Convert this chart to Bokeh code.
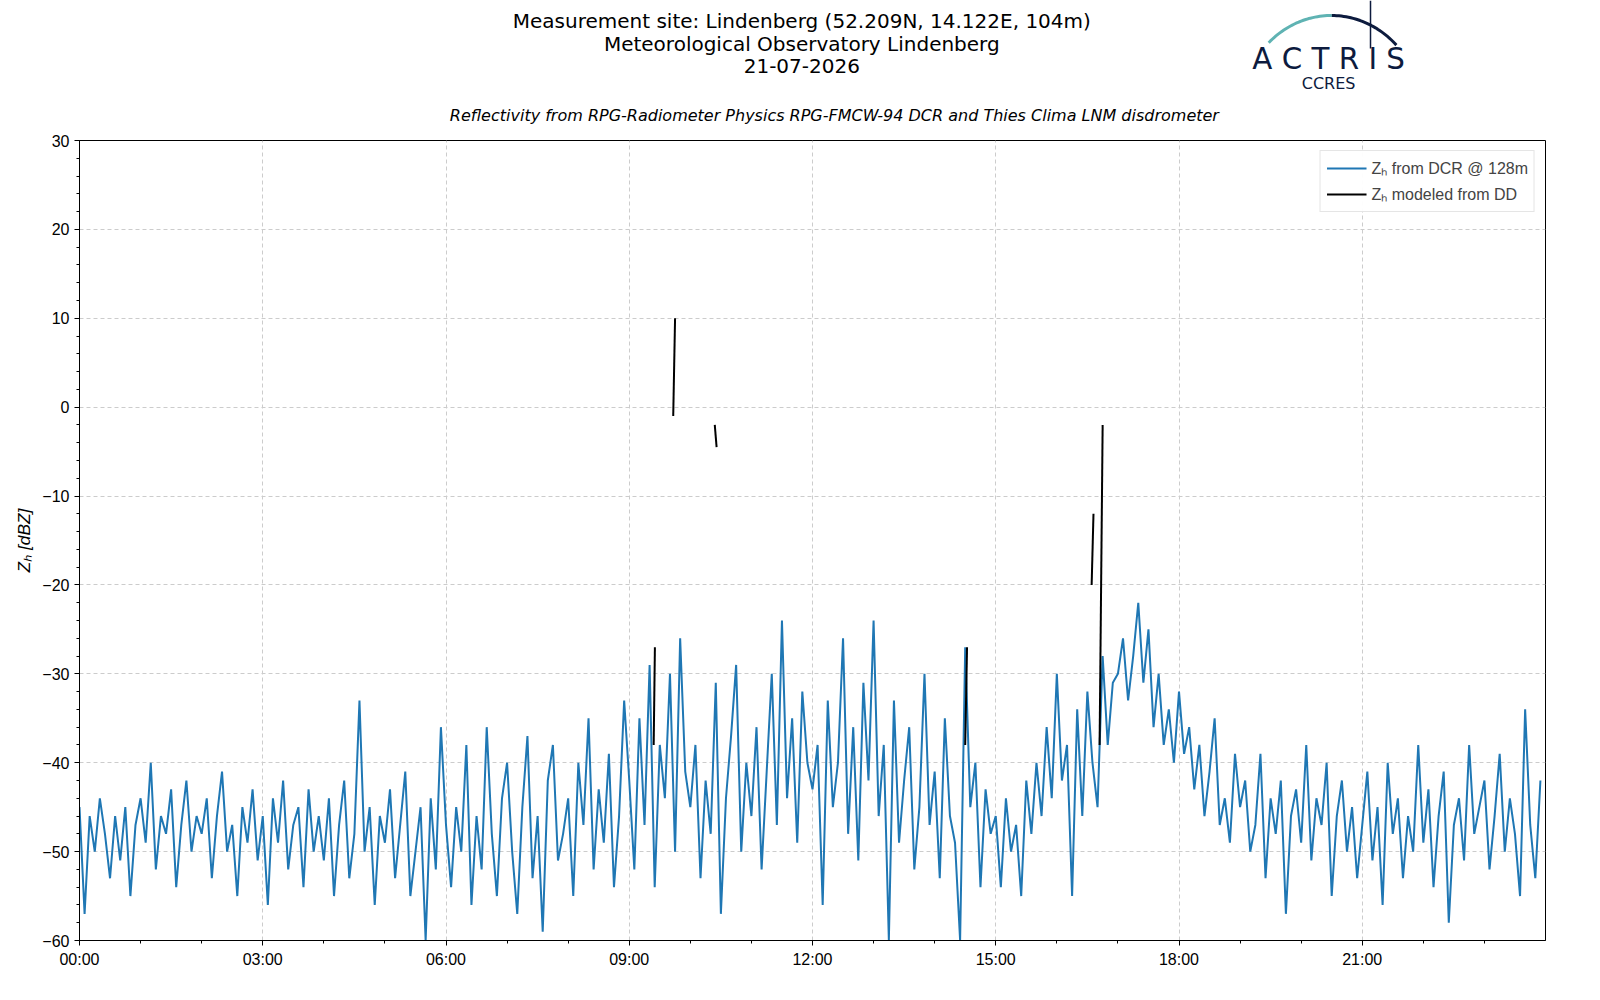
import numpy as np
from bokeh.plotting import figure
from bokeh.layouts import column
from bokeh.models import FixedTicker, Range1d, Legend, LegendItem
from bokeh.core.properties import value
from bokeh.embed import file_html
from bokeh.resources import INLINE

dcr_hourly = [
[-45,-57,-46,-50,-44,-48,-53,-46,-51,-45,-55,-47],
[-44,-49,-40,-52,-46,-48,-43,-54,-47,-42,-50,-46],
[-48,-44,-53,-46,-41,-50,-47,-55,-45,-49,-43,-51],
[-46,-56,-44,-49,-42,-52,-47,-45,-54,-43,-50,-46],
[-51,-44,-55,-47,-42,-53,-48,-33,-50,-45,-56,-46],
[-49,-43,-53,-47,-41,-55,-50,-45,-60,-44,-52,-36],
[-47,-54,-45,-50,-38,-56,-46,-52,-36,-48,-55,-44],
[-40,-50,-57,-45,-37,-53,-46,-59,-42,-38,-51,-48],
[-44,-55,-40,-47,-35,-52,-43,-49,-39,-54,-46,-33],
[-42,-52,-35,-47,-29,-54,-38,-44,-30,-50,-26,-41],
[-45,-38,-53,-42,-48,-31,-57,-44,-37,-29,-50,-40],
[-46,-36,-52,-41,-30,-47,-24,-44,-35,-49,-32,-40],
[-43,-38,-56,-33,-45,-40,-26,-48,-36,-51,-31,-42],
[-24,-46,-38,-60,-33,-49,-42,-36,-52,-45,-30,-47],
[-41,-53,-35,-46,-49,-60,-27,-45,-40,-54,-43,-48],
[-46,-54,-44,-50,-47,-55,-42,-48,-40,-46,-36,-44],
[-30,-42,-38,-55,-34,-46,-32,-40,-45,-28,-38,-31],
[-30,-26,-33,-28,-22,-31,-25,-36,-30,-38,-34,-40],
[-32,-39,-36,-43,-38,-46,-41,-35,-47,-44,-49,-39],
[-45,-42,-50,-47,-39,-53,-44,-48,-42,-57,-46,-43],
[-49,-38,-51,-44,-47,-40,-55,-46,-42,-50,-45,-53],
[-47,-41,-51,-45,-56,-40,-48,-44,-53,-46,-50,-38],
[-49,-43,-54,-46,-41,-58,-47,-44,-51,-38,-48,-45],
[-42,-52,-46,-39,-50,-44,-48,-55,-34,-47,-53,-42],
]
dcr_values = [v for h in dcr_hourly for v in h]
dcr_time = [i / 12 for i in range(len(dcr_values))]

dd_time = [[9.40, 9.42], [9.72, 9.75], [10.40, 10.43], [14.50, 14.53], [16.57, 16.60], [16.70, 16.75]]
dd_values = [[-38, -27], [-1, 10], [-2, -4.5], [-38, -27], [-20, -12], [-38, -2]]

tick_pos = [0, 3, 6, 9, 12, 15, 18, 21]
tick_lab = ["00:00", "03:00", "06:00", "09:00", "12:00", "15:00", "18:00", "21:00"]

W = 1575
h = figure(width=W, height=130, output_backend="svg", toolbar_location=None,
           x_range=Range1d(0, W), y_range=Range1d(130, 0), min_border=0)
h.axis.visible = False
h.grid.visible = False
h.outline_line_color = None
F = value("DejaVu Sans")
h.text(x=[776, 776, 776], y=[20, 43, 65],
       text=["Measurement site: Lindenberg (52.209N, 14.122E, 104m)",
             "Meteorological Observatory Lindenberg", "21-07-2026"],
       text_font=F, text_font_size="15pt", text_align="center", text_baseline="middle")
h.text(x=[811], y=[115], text=["Reflectivity from RPG-Radiometer Physics RPG-FMCW-94 DCR and Thies Clima LNM disdrometer"],
       text_font=F, text_font_size="12pt", text_font_style="italic", text_align="center", text_baseline="middle")
h.text(x=[1342], y=[58], text=["A C T R I S"], text_font=F, text_font_size="22pt",
       text_align="center", text_baseline="middle", text_color="#0d1b3e")
h.text(x=[1342], y=[83], text=["CCRES"], text_font=F, text_font_size="12pt",
       text_align="center", text_baseline="middle", text_color="#0d1b3e")
# logo arc (decoration)
ang = np.linspace(np.radians(226), np.radians(316), 60)
ax_ = 1345 + 97 * np.cos(ang)
ay_ = 112 + 97 * np.sin(ang)
h.line(ax_[:30], ay_[:30], line_color="#5fb3b3", line_width=3)
h.line(ax_[29:], ay_[29:], line_color="#0d1b3e", line_width=3)
h.segment(x0=[1387], y0=[0], x1=[1387], y1=[48], line_color="#0d1b3e", line_width=1.5)

p = figure(width=W, height=842, output_backend="svg", toolbar_location=None,
           x_range=Range1d(0, 24), y_range=Range1d(-60, 30),
           min_border_left=79, min_border_right=30, min_border_top=10, min_border_bottom=32)
p.outline_line_color = "black"
l1 = p.line(dcr_time, dcr_values, line_color="#1f77b4", line_width=2)
l2 = p.multi_line(dd_time, dd_values, line_color="black", line_width=2)

p.xaxis.ticker = FixedTicker(ticks=tick_pos, minor_ticks=[i for i in range(24)])
p.xaxis.major_label_overrides = {t: l for t, l in zip(tick_pos, tick_lab)}
p.yaxis.ticker = FixedTicker(ticks=list(range(-60, 31, 10)), minor_ticks=list(range(-60, 31, 2)))
for ax in (p.xaxis, p.yaxis):
    ax.major_label_text_font_size = "12pt"
    ax.major_label_text_color = "black"
    ax.axis_line_color = "black"
    ax.major_tick_line_color = "black"
    ax.minor_tick_line_color = "black"
    ax.major_tick_out = 5
    ax.minor_tick_out = 3
    ax.major_tick_in = 0
    ax.minor_tick_in = 0
p.yaxis.axis_label = "Zₕ [dBZ]"
p.yaxis.axis_label_text_font_style = "italic"
p.yaxis.axis_label_text_font_size = "13pt"
p.yaxis.axis_label_text_color = "black"
p.grid.grid_line_color = "#cccccc"
p.grid.grid_line_dash = "4 3"

leg = Legend(items=[LegendItem(label="Zₕ from DCR @ 128m", renderers=[l1]),
                    LegendItem(label="Zₕ modeled from DD", renderers=[l2])],
             location="top_right", label_text_font_size="12pt", border_line_color="#cccccc",
             glyph_width=40, spacing=4, padding=6)
p.add_layout(leg)

open("out.html", "w").write(file_html(column(h, p, spacing=0), INLINE))
